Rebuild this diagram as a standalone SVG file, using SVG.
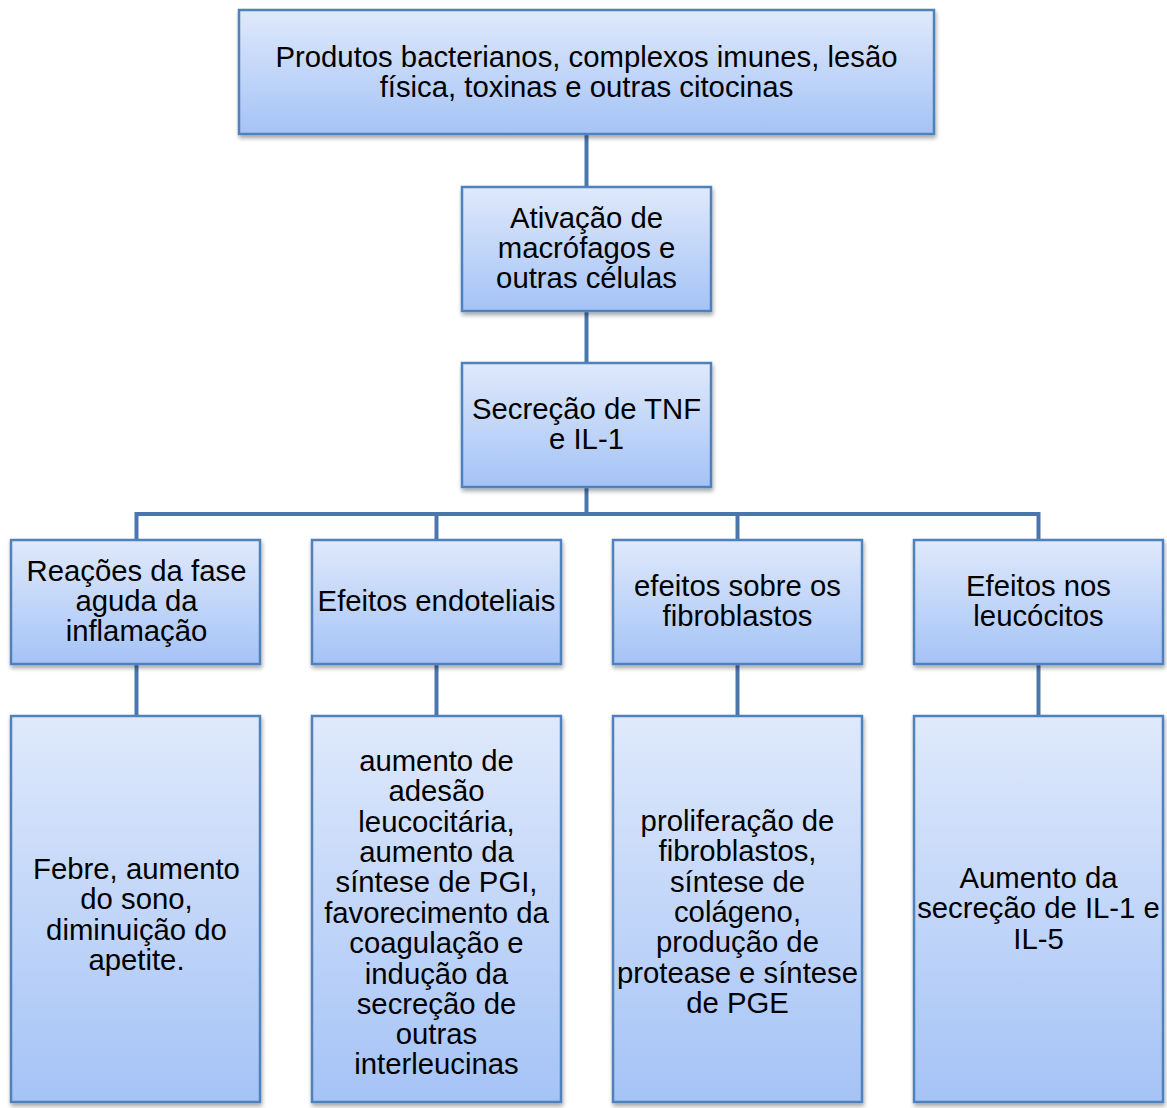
<svg xmlns="http://www.w3.org/2000/svg" width="1167" height="1108" viewBox="0 0 1167 1108">
<defs>
<linearGradient id="g" x1="0" y1="0" x2="0" y2="1">
<stop offset="0" stop-color="#dfe9fb"/>
<stop offset="1" stop-color="#a5c3f6"/>
</linearGradient>
<filter id="sh" x="-10%" y="-10%" width="125%" height="130%">
<feGaussianBlur in="SourceAlpha" stdDeviation="2"/>
<feOffset dx="1" dy="3"/>
<feComponentTransfer><feFuncA type="linear" slope="0.35"/></feComponentTransfer>
<feMerge><feMergeNode/><feMergeNode in="SourceGraphic"/></feMerge>
</filter>
</defs>
<style>
.box{fill:url(#g);stroke:#4f81bd;stroke-width:2.5;filter:url(#sh)}
.t{font-family:"Liberation Sans",Arial,sans-serif;font-size:29.3px;fill:#000;text-anchor:middle}
.c{stroke:#4a76ad;stroke-width:4;fill:none}
</style>
<g id="connectors">
<line class="c" x1="586.5" y1="134" x2="586.5" y2="187"/>
<line class="c" x1="586.5" y1="311" x2="586.5" y2="363"/>
<line class="c" x1="586.5" y1="487" x2="586.5" y2="514"/>
<polyline class="c" points="136.5,540 136.5,514 1038.5,514 1038.5,540"/>
<line class="c" x1="436.5" y1="514" x2="436.5" y2="540"/>
<line class="c" x1="737.5" y1="514" x2="737.5" y2="540"/>
<line class="c" x1="136.5" y1="664" x2="136.5" y2="716"/>
<line class="c" x1="436.5" y1="664" x2="436.5" y2="716"/>
<line class="c" x1="737.5" y1="664" x2="737.5" y2="716"/>
<line class="c" x1="1038.5" y1="664" x2="1038.5" y2="716"/>
</g>
<g id="n1"><rect class="box" x="239" y="10" width="695" height="124"/>
<text class="t" x="586.5" y="67">Produtos bacterianos, complexos imunes, lesão</text>
<text class="t" x="586.5" y="97">física, toxinas e outras citocinas</text></g>
<g id="n2"><rect class="box" x="462" y="187" width="249" height="124"/>
<text class="t" x="586.5" y="228">Ativação de</text>
<text class="t" x="586.5" y="258">macrófagos e</text>
<text class="t" x="586.5" y="288">outras células</text></g>
<g id="n3"><rect class="box" x="462" y="363" width="249" height="124"/>
<text class="t" x="586.5" y="419">Secreção de TNF</text>
<text class="t" x="586.5" y="449">e IL-1</text></g>
<g id="n4"><rect class="box" x="11" y="540" width="249" height="124"/>
<text class="t" x="136.5" y="581">Reações da fase</text>
<text class="t" x="136.5" y="611">aguda da</text>
<text class="t" x="136.5" y="641">inflamação</text></g>
<g id="n5"><rect class="box" x="312" y="540" width="249" height="124"/>
<text class="t" x="436.5" y="611">Efeitos endoteliais</text></g>
<g id="n6"><rect class="box" x="613" y="540" width="249" height="124"/>
<text class="t" x="737.5" y="596">efeitos sobre os</text>
<text class="t" x="737.5" y="626">fibroblastos</text></g>
<g id="n7"><rect class="box" x="914" y="540" width="249" height="124"/>
<text class="t" x="1038.5" y="596">Efeitos nos</text>
<text class="t" x="1038.5" y="626">leucócitos</text></g>
<g id="n8"><rect class="box" x="11" y="716" width="249" height="386"/>
<text class="t" x="136.5" y="879">Febre, aumento</text>
<text class="t" x="136.5" y="909">do sono,</text>
<text class="t" x="136.5" y="940">diminuição do</text>
<text class="t" x="136.5" y="970">apetite.</text></g>
<g id="n9"><rect class="box" x="312" y="716" width="249" height="386"/>
<text class="t" x="436.5" y="771">aumento de</text>
<text class="t" x="436.5" y="801">adesão</text>
<text class="t" x="436.5" y="832">leucocitária,</text>
<text class="t" x="436.5" y="862">aumento da</text>
<text class="t" x="436.5" y="892">síntese de PGI,</text>
<text class="t" x="436.5" y="923">favorecimento da</text>
<text class="t" x="436.5" y="953">coagulação e</text>
<text class="t" x="436.5" y="984">indução da</text>
<text class="t" x="436.5" y="1014">secreção de</text>
<text class="t" x="436.5" y="1044">outras</text>
<text class="t" x="436.5" y="1074">interleucinas</text></g>
<g id="n10"><rect class="box" x="613" y="716" width="249" height="386"/>
<text class="t" x="737.5" y="831">proliferação de</text>
<text class="t" x="737.5" y="861">fibroblastos,</text>
<text class="t" x="737.5" y="892">síntese de</text>
<text class="t" x="737.5" y="922">colágeno,</text>
<text class="t" x="737.5" y="952">produção de</text>
<text class="t" x="737.5" y="983">protease e síntese</text>
<text class="t" x="737.5" y="1013">de PGE</text></g>
<g id="n11"><rect class="box" x="914" y="716" width="249" height="386"/>
<text class="t" x="1038.5" y="888">Aumento da</text>
<text class="t" x="1038.5" y="918">secreção de IL-1 e</text>
<text class="t" x="1038.5" y="949">IL-5</text></g>
</svg>
